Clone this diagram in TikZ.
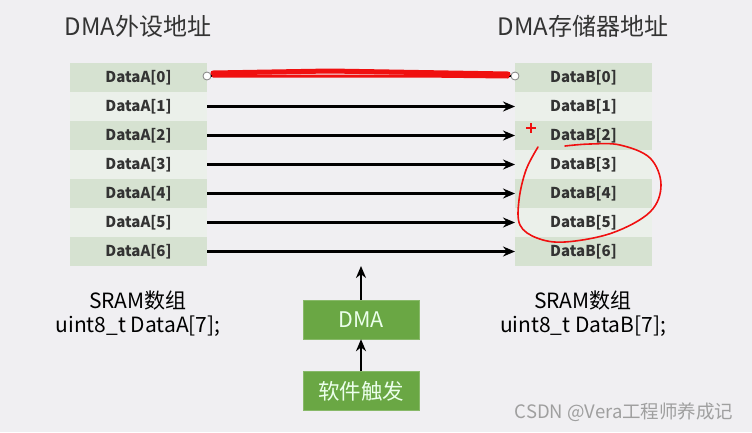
\documentclass[tikz,border=0pt]{standalone}
\usepackage{fontspec}
\setmainfont{Noto Sans CJK SC}
\usetikzlibrary{arrows.meta}
\definecolor{bg}{HTML}{F0EFF2}
\definecolor{rowdark}{HTML}{D6E2D1}
\definecolor{rowlight}{HTML}{EBF0EA}
\definecolor{dmagreen}{HTML}{6AA744}
\definecolor{txt}{HTML}{333333}
\definecolor{redmark}{HTML}{F01010}
\tikzset{
  cell/.style={minimum width=137pt, minimum height=29pt, inner sep=0pt, outer sep=0pt,
    font=\fontsize{15}{17}\selectfont\bfseries, text=txt},
  evenrow/.style={cell, fill=rowdark},
  oddrow/.style={cell, fill=rowlight},
  link/.style={-{Stealth[length=12pt,width=10pt]}, line width=2.5pt, black},
  greenbox/.style={fill=dmagreen, draw=dmagreen!80!white, minimum width=116pt, minimum height=39pt,
    inner sep=0pt, text=white!92!green, font=\fontsize{21.5}{24}\selectfont},
  title/.style={font=\fontsize{24}{28}\selectfont, text=txt},
  caption/.style={font=\fontsize{21}{26}\selectfont, text=black, align=center},
  endpt/.style={circle, draw=gray, fill=white, line width=0.8pt, minimum size=8pt, inner sep=0pt},
}
\begin{document}
\begin{tikzpicture}[x=1pt,y=-1pt]
\fill[bg] (0,0) rectangle (752,432);
\useasboundingbox (0,0) rectangle (752,432);

\node[title] (ta) at (138,26) {DMA外设地址};
\node[title] (tb) at (583,26) {DMA存储器地址};

\foreach \i in {0,...,6} {
  \pgfmathtruncatemacro{\parity}{mod(\i,2)}
  \ifnum\parity=0
    \node[evenrow] (a\i) at (138.5,{77.5+29*\i}) {DataA[\i]};
    \node[evenrow] (b\i) at (583.5,{77.5+29*\i}) {DataB[\i]};
  \else
    \node[oddrow] (a\i) at (138.5,{77.5+29*\i}) {DataA[\i]};
    \node[oddrow] (b\i) at (583.5,{77.5+29*\i}) {DataB[\i]};
  \fi
}
\foreach \i in {1,...,6} {
  \draw[link] (a\i.east) -- (b\i.west);
}
% row 0: marked transfer
\node[endpt] (ca) at (207,76) {};
\node[endpt] (cb) at (515,76) {};
\draw[black, line width=2pt] (ca.east) -- (cb.west);
\draw[redmark, line width=5pt, line cap=round] (213,73) -- (330,71) -- (508,74);
\draw[redmark, line width=3pt, line cap=round] (213,76) -- (420,76) -- (508,77);

% red annotations
\draw[redmark, line width=1.6pt] (526,128) -- (536,128) (531,123) -- (531,133);
\draw[redmark, line width=1.6pt, line cap=round] plot[smooth, tension=0.6] coordinates {
  (538,147) (526,170) (519,200) (520,225) (537,238) (565,242) (612,233) (650,212) (661,185) (650,158) (620,145) (590,144) (565,146)};

\node[caption] (sa) at (138,314) {SRAM数组\\[-2pt]uint8\_t DataA[7];};
\node[caption] (sb) at (583,314) {SRAM数组\\[-2pt]uint8\_t DataB[7];};

\node[greenbox] (dma) at (361,319.5) {DMA};
\node[greenbox] (sw) at (361,391) {软件触发};
\coordinate (top) at (361,266);
\draw[link] (dma.north) -- (top);
\draw[link] (sw.north) -- (dma.south);

\node[font=\fontsize{18.5}{22}\selectfont, text=gray!75, anchor=east] (wm) at (737,412) {CSDN @Vera工程师养成记};
\end{tikzpicture}
\end{document}
